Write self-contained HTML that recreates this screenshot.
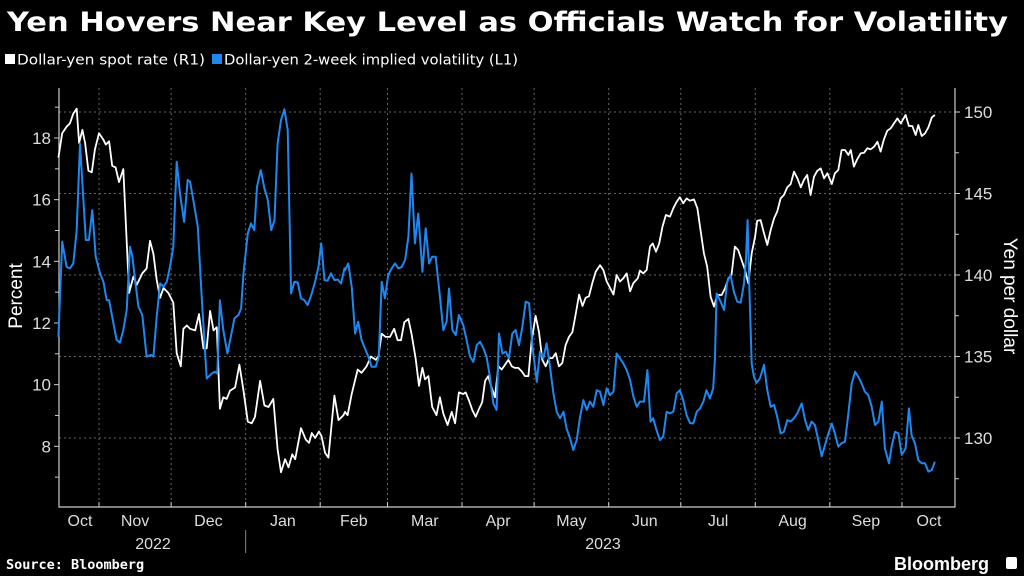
<!DOCTYPE html>
<html><head><meta charset="utf-8">
<style>
body{margin:0;background:#000;width:1024px;height:576px;overflow:hidden;font-family:"Liberation Sans",sans-serif;color:#fff}
svg{position:absolute;left:0;top:0}
</style></head>
<body>
<svg id="c" width="1024" height="576">
<text x="7" y="31" font-size="27" font-weight="bold" fill="#fff" font-family="DejaVu Sans, sans-serif" textLength="1001" lengthAdjust="spacingAndGlyphs">Yen Hovers Near Key Level as Officials Watch for Volatility</text>
<g>
<rect x="5" y="54" width="10" height="10" fill="#fff"/>
<text x="17" y="64.5" font-size="14" fill="#fff" font-family="DejaVu Sans Condensed, DejaVu Sans, sans-serif" textLength="188" lengthAdjust="spacingAndGlyphs">Dollar-yen spot rate (R1)</text>
<rect x="212" y="54" width="10" height="10" fill="#1e88f0"/>
<text x="224" y="64.5" font-size="14" fill="#fff" font-family="DejaVu Sans Condensed, DejaVu Sans, sans-serif" textLength="294" lengthAdjust="spacingAndGlyphs">Dollar-yen 2-week implied volatility (L1)</text>
</g>
<g id="grid"></g>
<g id="axes"></g>
<g id="series"></g>
<text transform="translate(22,296) rotate(-90)" text-anchor="middle" font-size="19" fill="#fff">Percent</text>
<text transform="translate(1004,296) rotate(90)" text-anchor="middle" font-size="19" fill="#fff">Yen per dollar</text>
<text x="6" y="569" font-size="13.5" font-weight="bold" fill="#fff" font-family="DejaVu Sans Mono, monospace">Source: Bloomberg</text>
<text x="894" y="570" font-size="18" font-weight="bold" fill="#fff">Bloomberg</text>
<rect x="1006" y="557" width="11" height="12" rx="2" fill="#fff"/>
</svg>
<script>
// months (day index from 2022-10-01)
const monthLabels=["Oct","Nov","Dec","Jan","Feb","Mar","Apr","May","Jun","Jul","Aug","Sep","Oct"];
const monthStarts=[0,31,61,92,123,151,182,212,243,273,304,335,365];
const leftTicks=[8,10,12,14,16,18];
const rightTicks=[130,135,140,145,150];
const spotDays=[14.1,15.7,17.5,18.9,20.3,21.7,22.7,24.1,25.2,26.6,28.0,29.3,31.0,32.8,33.8,35.2,36.5,37.9,39.3,41.1,43.5,45.3,46.7,49.0,50.8,52.2,53.6,55.0,56.4,57.8,59.8,61.9,63.3,65.0,66.1,67.5,68.9,71.0,72.6,74.4,75.8,77.2,78.6,80.0,81.3,82.7,84.1,85.5,87.6,89.4,91.1,92.9,94.5,95.9,98.0,99.8,101.5,103.5,105.3,106.7,108.4,109.8,111.4,112.6,115.0,117.0,118.4,119.5,120.9,122.5,123.6,125.0,126.4,128.9,130.6,132.7,
133.3,134.4,136.1,138.6,140.2,142.3,144.1,146.1,147.2,148.6,150.2,152.0,153.8,155.2,156.6,158.0,159.7,161.0,162.7,164.1,165.5,166.6,168.0,169.6,171.4,172.8,174.2,176.0,177.7,179.1,180.7,182.5,183.5,184.9,186.3,187.7,189.1,190.4,191.6,192.9,194.3,195.7,197.1,198.5,199.9,201.3,202.7,204.0,205.4,206.8,208.2,209.6,211.0,212.6,214.0,215.4,216.8,218.2,219.6,221.0,222.3,223.7,225.1,226.5,227.9,229.3,230.7,232.1,233.4,234.8,236.2,237.6,239.4,240.8,242.2,243.6,245.0,246.3,247.7,249.1,250.5,251.9,253.3,255.1,
256.0,257.4,258.8,260.2,261.3,262.7,264.0,265.4,266.8,268.5,269.9,271.3,272.6,274.0,275.4,276.8,278.5,279.9,281.2,282.6,284.0,285.4,286.8,288.2,290.0,291.4,292.8,294.1,295.5,296.9,298.3,299.7,301.1,302.5,303.9,304.8,306.2,307.6,309.0,310.4,311.8,313.1,314.5,315.9,317.3,318.7,320.1,321.5,322.9,324.2,325.6,327.0,328.4,329.8,331.2,332.6,334.0,335.8,337.1,338.5,339.9,341.3,342.7,343.7,345.0,346.4,347.8,349.2,350.6,352.0,353.4,354.8,356.1,357.5,358.9,360.3,361.7,363.1,364.5,366.5,367.9,369.3,370.7,371.8,373.2,374.6,376.0,377.4,378.7];
const spotValues=[147.2,148.7,149.1,149.3,149.9,150.2,148.1,148.9,148.1,146.4,146.3,147.7,148.7,148.3,148.0,148.2,146.7,146.6,145.7,146.5,138.9,139.9,139.4,140.1,140.4,142.1,141.3,139.7,138.6,139.2,138.9,138.3,135.2,134.4,136.7,136.9,136.7,136.6,137.6,135.5,135.5,137.8,136.6,136.8,131.8,132.5,132.4,132.9,133.1,134.5,132.9,131.0,130.9,131.3,133.5,132.0,131.9,132.4,129.3,127.9,128.7,128.2,129.0,128.7,130.6,129.9,129.7,130.3,130.0,130.4,130.1,129.1,128.8,132.6,131.1,131.4,
131.6,131.4,132.7,134.2,134.0,134.4,135.0,134.8,135.0,136.4,136.2,136.2,136.7,136.0,136.0,137.1,137.3,136.4,134.9,133.2,134.3,133.6,133.8,131.9,131.4,132.5,131.5,130.8,131.6,130.9,132.8,132.7,132.8,132.3,131.7,131.3,131.8,132.2,133.5,133.8,133.1,132.5,134.4,134.2,134.5,134.8,134.4,134.3,134.3,134.1,133.8,133.8,136.0,137.5,136.5,134.8,134.4,134.9,134.9,135.2,134.4,134.6,135.7,136.2,136.5,137.6,138.8,138.1,138.6,138.7,139.5,140.2,140.6,140.3,139.6,139.2,138.8,140.0,139.6,139.8,140.1,139.0,139.5,139.8,
140.27,140.10,140.31,141.74,141.94,141.43,141.94,142.97,143.68,143.58,144.09,144.50,144.77,144.40,144.70,144.56,144.64,144.09,142.76,141.33,140.51,138.67,138.06,138.77,138.77,139.18,139.79,140.00,141.74,141.53,140.92,140.31,139.49,141.33,142.35,143.33,143.37,142.56,141.84,142.76,143.48,143.89,144.70,144.91,145.38,145.58,146.34,145.93,145.38,145.83,146.14,144.91,146.03,146.40,146.54,145.93,146.24,145.58,146.24,146.44,147.67,147.67,147.36,147.67,146.65,147.10,147.46,147.50,147.77,147.71,147.87,148.18,147.57,148.32,148.85,149.00,149.30,149.61,149.30,149.82,149.14,149.14,148.59,149.20,148.53,148.69,149.06,149.67,149.82];
const volDays=[14.1,15.7,17.5,18.9,20.3,21.7,23.1,24.5,25.5,26.8,28.2,29.6,31.4,32.8,34.2,35.2,36.5,38.3,39.7,41.1,42.5,43.9,44.9,46.0,47.4,49.0,50.8,52.6,53.6,55.0,56.4,57.8,59.2,60.5,61.9,63.3,64.7,66.4,67.9,68.9,70.2,72.1,73.7,75.8,77.9,79.3,80.2,81.3,82.7,84.4,85.8,87.3,89.0,90.1,91.1,92.9,94.2,95.6,96.7,98.3,99.8,101.2,102.6,104.0,105.3,106.7,108.1,109.5,110.9,112.3,113.7,115.0,116.4,117.8,119.5,120.9,122.3,123.4,124.8,126.1,127.5,128.9,130.3,131.7,133.1,
133.3,134.7,136.1,137.5,138.8,140.2,141.6,143.3,144.4,146.1,147.4,148.6,149.9,151.3,152.7,154.1,155.5,156.9,158.3,159.7,161.0,162.4,163.8,165.5,166.9,168.3,169.6,171.0,172.4,174.2,175.6,176.6,178.0,179.4,180.7,182.5,183.9,185.3,186.7,188.1,189.5,190.9,192.2,193.6,195.0,196.4,197.4,198.8,200.2,201.5,202.9,204.3,205.7,207.1,208.5,209.9,211.3,213.1,214.4,215.8,217.2,218.6,220.0,221.4,222.8,224.2,225.5,226.9,228.3,229.7,231.1,232.5,233.9,235.2,236.6,238.0,239.4,240.8,242.2,243.6,245.0,246.3,247.7,249.1,250.5,251.9,253.3,254.7,
256.0,257.7,259.1,260.4,261.5,262.9,264.3,265.7,267.1,268.5,269.9,271.3,272.6,274.0,275.4,276.8,278.2,279.6,281.0,282.4,283.7,285.1,286.5,287.2,287.9,289.3,291.0,292.3,293.7,295.1,296.5,297.9,299.3,300.1,300.8,301.5,302.5,303.4,304.5,305.9,307.6,309.0,310.4,311.8,313.1,314.5,315.9,317.3,318.7,320.1,321.5,323.3,324.7,326.0,327.4,328.8,330.2,331.6,333.0,334.4,335.8,337.1,338.5,339.9,341.3,342.7,344.1,345.5,346.8,348.2,349.6,351.0,352.4,353.8,355.2,356.6,357.9,359.6,360.7,362.1,363.5,364.9,366.5,367.9,369.0,370.4,371.8,373.2,374.6,376.0,377.4,378.7];
const volValues=[11.55,14.64,13.82,13.77,13.93,15.01,17.82,15.99,14.69,14.69,15.66,14.15,13.61,13.34,12.74,12.74,12.20,11.45,11.36,11.77,12.42,14.47,14.15,13.39,12.53,12.26,10.91,10.96,10.91,12.20,13.28,13.18,13.34,13.82,14.47,17.23,16.20,15.28,16.64,16.58,15.99,15.12,12.85,10.20,10.36,10.42,10.36,12.74,11.77,11.01,11.55,12.15,12.26,12.47,13.61,14.91,15.23,15.01,16.42,16.96,16.37,15.99,15.01,15.34,17.82,18.58,18.93,18.26,12.96,13.34,13.31,12.80,12.74,12.58,12.96,13.34,13.82,14.58,13.39,13.37,13.61,13.39,13.41,13.28,13.77,
13.72,13.93,13.18,11.66,12.04,11.45,11.18,10.85,10.58,10.58,10.91,13.34,12.80,13.55,13.77,13.93,13.77,13.82,14.04,14.80,16.85,14.58,15.55,13.66,15.07,13.93,14.15,14.15,13.18,11.77,12.04,13.12,11.77,11.61,12.26,11.93,11.45,10.91,10.74,11.28,11.39,11.18,10.91,10.26,9.39,9.18,11.66,11.01,11.07,10.85,11.66,11.77,11.28,11.88,12.69,12.64,11.23,10.09,11.07,10.85,11.34,10.58,9.72,9.12,8.91,9.12,8.58,8.26,7.88,8.20,8.96,9.50,9.18,9.45,9.28,9.82,9.77,9.34,9.88,9.66,9.77,11.01,10.85,10.69,10.47,10.15,9.61,9.28,
9.45,9.45,10.47,8.80,8.91,8.53,8.20,8.31,9.12,9.07,9.12,9.72,9.82,9.50,9.01,8.76,8.74,9.12,9.23,9.45,9.82,9.55,9.88,10.80,12.96,12.74,12.42,13.34,13.55,13.01,12.69,12.66,13.28,14.04,15.34,13.18,10.69,10.26,10.06,10.20,10.64,9.82,9.28,9.34,8.96,8.42,8.47,8.85,8.80,8.91,9.07,9.39,8.85,8.53,8.80,8.69,8.20,7.68,8.04,8.42,8.74,8.42,7.99,8.10,8.15,9.07,10.04,10.42,10.26,10.04,9.77,9.66,9.28,8.69,8.80,9.45,7.93,7.45,7.99,8.47,8.42,7.72,7.93,9.23,8.36,8.10,7.55,7.45,7.45,7.18,7.23,7.50];

const NS="http://www.w3.org/2000/svg";
const L=59,R=955,T=88,B=507;
const xD=d=>24.5+2.404*d;
const yL=v=>138+(18-v)*30.83;
const yR=p=>112+(150-p)*16.3;
function mk(tag,attrs,parent){const e=document.createElementNS(NS,tag);for(const k in attrs)e.setAttribute(k,attrs[k]);parent.appendChild(e);return e;}
const grid=document.getElementById('grid'),axes=document.getElementById('axes'),ser=document.getElementById('series');
rightTicks.forEach(p=>{
  const g=mk('line',{x1:L,x2:R,y1:yR(p),y2:yR(p),stroke:'#666','stroke-dasharray':'2,3','stroke-width':1},grid);
  
  
  mk('line',{x1:R,x2:R+5,y1:yR(p),y2:yR(p),stroke:'#ccc'},axes);
  const t=mk('text',{x:R+9,y:yR(p)+6,'font-size':17,fill:'#ddd'},axes);t.textContent=p;
  
  
  mk('line',{x1:R,x2:R+4,y1:yR(p-2.5),y2:yR(p-2.5),stroke:'#ccc'},axes);
});
leftTicks.forEach(v=>{
  mk('line',{x1:L-5,x2:L,y1:yL(v),y2:yL(v),stroke:'#ccc'},axes);
  mk('line',{x1:L-4,x2:L,y1:yL(v+1),y2:yL(v+1),stroke:'#ccc'},axes);
  const t=mk('text',{x:L-8,y:yL(v)+6,'font-size':17,fill:'#ddd','text-anchor':'end'},axes);t.textContent=v;
  
  
});
mk('line',{x1:L-4,x2:L,y1:yL(7),y2:yL(7),stroke:'#ccc'},axes);
monthStarts.forEach((d,i)=>{
  const x=xD(d);
  if(i>0){
    const g=mk('line',{x1:x,x2:x,y1:T,y2:B,stroke:'#666','stroke-dasharray':'2,3'},grid);
    
    
    mk('line',{x1:x,x2:x,y1:B-5,y2:B,stroke:'#ccc'},axes);
  }
  const x0=Math.max(L,x), x1=i<monthStarts.length-1?xD(monthStarts[i+1]):R;
  const cx=i==0?80:(i==monthStarts.length-1?929:(x0+x1)/2);
  const t=mk('text',{x:cx,y:526,'font-size':16,fill:'#ddd','text-anchor':'middle'},axes);t.textContent=monthLabels[i];
  
  
});
mk('path',{d:`M${L} ${T} V${B} H${R} V${T}`,fill:'none',stroke:'#ccc','stroke-width':1.2},axes);
mk('line',{x1:xD(92),x2:xD(92),y1:530,y2:553,stroke:'#888'},axes);
let y1=mk('text',{x:153,y:549,'font-size':16,fill:'#ddd','text-anchor':'middle'},axes);y1.textContent='2022';


let y2=mk('text',{x:603,y:549,'font-size':16,fill:'#ddd','text-anchor':'middle'},axes);y2.textContent='2023';


const sp=mk('polyline',{points:spotDays.map((d,i)=>xD(d).toFixed(1)+','+yR(spotValues[i]).toFixed(1)).join(' '),fill:'none',stroke:'#fff','stroke-width':1.8,'stroke-linejoin':'round'},ser);


const vl=mk('polyline',{points:volDays.map((d,i)=>xD(d).toFixed(1)+','+yL(volValues[i]).toFixed(1)).join(' '),fill:'none',stroke:'#1e88f0','stroke-width':2,'stroke-linejoin':'round'},ser);


</script>
</body></html>
